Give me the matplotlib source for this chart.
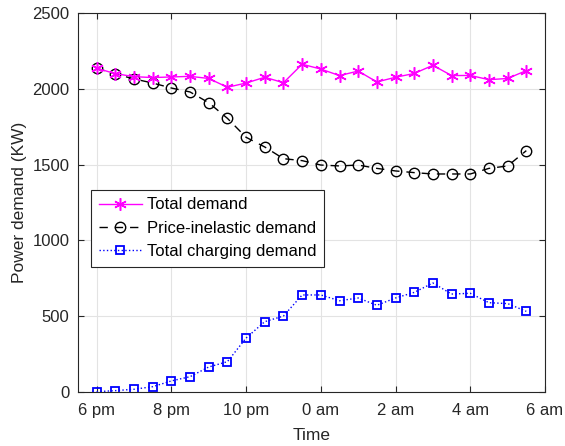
import numpy as np
import matplotlib
matplotlib.use('Agg')
import matplotlib.pyplot as plt

plt.rcParams['font.family'] = ['Liberation Sans', 'DejaVu Sans']

# hours after 6 pm, half-hour steps
hours = np.arange(0, 12, 0.5)
total_demand = [2135, 2100, 2080, 2074, 2078, 2082, 2068, 2010, 2038, 2076, 2040, 2162,
                2130, 2087, 2117, 2045, 2076, 2101, 2155, 2087, 2088, 2060, 2068, 2120]
inelastic_demand = [2135, 2098, 2065, 2038, 2005, 1979, 1908, 1805, 1680, 1616, 1539, 1526,
                    1497, 1491, 1497, 1475, 1458, 1447, 1438, 1438, 1438, 1475, 1491, 1592]
charging_demand = [2, 9, 18, 35, 73, 101, 165, 200, 356, 464, 501, 640,
                   640, 602, 620, 572, 620, 657, 719, 646, 651, 589, 583, 532]
xtick_pos = [0, 2, 4, 6, 8, 10, 12]
xtick_labels = ['6 pm', '8 pm', '10 pm', '0 am', '2 am', '4 am', '6 am']

fig = plt.figure(figsize=(5.65, 4.46), dpi=100)
ax = fig.add_axes([0.138, 0.1211, 0.8266, 0.8498])

# asterisk marker: 6 spokes
ax.plot(hours, total_demand, color='#ff00ff', ls='-', lw=1, marker=(6, 2, 0), ms=9,
        mew=1.1, label='Total demand', zorder=3)
ax.plot(hours, inelastic_demand, color='black', ls=(0, (6, 5)), lw=1, marker='o', ms=7.5,
        mfc='none', mew=1, label='Price-inelastic demand', zorder=2)
ax.plot(hours, charging_demand, color='#0000ff', ls=':', lw=1, marker='s', ms=5.5,
        mfc='none', mew=1.3, label='Total charging demand', zorder=2)

ax.set_xlim(-0.5, 12)
ax.set_ylim(0, 2500)
ax.set_xticks(xtick_pos)
ax.set_xticklabels(xtick_labels)
ax.set_yticks(range(0, 2501, 500))
ax.grid(True, color='#e3e3e3', lw=0.8)
ax.set_axisbelow(True)
ax.tick_params(direction='in', top=True, right=True, labelsize=12, colors='#262626',
               length=4, width=0.8)
ax.tick_params(axis='x', pad=8)
ax.tick_params(axis='y', pad=6)
for s in ax.spines.values():
    s.set_color('#262626')
    s.set_linewidth(0.8)
ax.set_xlabel('Time', fontsize=12.5, color='#262626', labelpad=7)
ax.set_ylabel('Power demand (KW)', fontsize=12.5, color='#262626', labelpad=4)

leg = ax.legend(loc='upper left', bbox_to_anchor=(0.028, 0.533), borderaxespad=0,
                fontsize=12, fancybox=False, edgecolor='#262626', framealpha=1,
                handlelength=2.6, handletextpad=0.3, borderpad=0.45, labelspacing=0.5)
leg.get_frame().set_linewidth(0.8)

fig.savefig('out.png', dpi=100)
